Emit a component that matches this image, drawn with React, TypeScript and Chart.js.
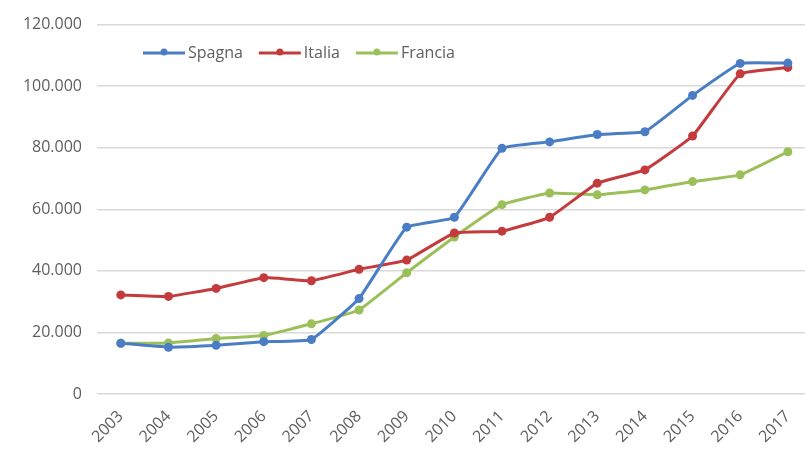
import React, { useEffect, useRef } from "react";
import { Chart, registerables } from "chart.js";

Chart.register(...registerables);

const years = [2003, 2004, 2005, 2006, 2007, 2008, 2009, 2010, 2011, 2012, 2013, 2014, 2015, 2016, 2017];
const spagna = [16500, 15200, 15800, 17000, 17700, 31000, 54200, 57400, 79800, 81900, 84300, 85200, 97000, 107400, 107500];
const italia = [32200, 31700, 34300, 37800, 36800, 40500, 43500, 52300, 52900, 57400, 68500, 72800, 83800, 104000, 106100];
const francia = [16500, 16600, 18000, 19000, 22800, 27300, 39400, 51000, 61500, 65300, 64700, 66300, 69000, 71200, 78700];
const yTicks = [0, 20000, 40000, 60000, 80000, 100000, 120000];
const seriesNames = ["Spagna", "Italia", "Francia"];
const seriesColors = ["#4A7DC4", "#C33B3D", "#9CC059"];

const FONT = "'Open Sans', 'DejaVu Sans', sans-serif";
const TEXT_COLOR = "#5E5E5E";

function fmt(v: number): string {
  const s = String(Math.round(v));
  return s.replace(/\B(?=(\d{3})+(?!\d))/g, ".");
}

const inlineLegend = {
  id: "inlineLegend",
  afterDraw(chart: any) {
    const ctx = chart.ctx as CanvasRenderingContext2D;
    const { left } = chart.chartArea;
    let x = left + 46;
    const y = 53;
    ctx.save();
    ctx.font = `16px ${FONT}`;
    ctx.textBaseline = "middle";
    ctx.textAlign = "left";
    chart.data.datasets.forEach((ds: any) => {
      ctx.strokeStyle = ds.borderColor;
      ctx.lineWidth = 3;
      ctx.beginPath();
      ctx.moveTo(x, y);
      ctx.lineTo(x + 42, y);
      ctx.stroke();
      ctx.fillStyle = ds.borderColor;
      ctx.beginPath();
      ctx.arc(x + 21, y - 1, 3.5, 0, Math.PI * 2);
      ctx.fill();
      x += 45;
      ctx.fillStyle = TEXT_COLOR;
      ctx.fillText(ds.label, x, y);
      x += ctx.measureText(ds.label).width + 16;
    });
    ctx.restore();
  },
};

export default function App() {
  const ref = useRef<HTMLCanvasElement | null>(null);

  useEffect(() => {
    if (!ref.current) return;
    const data = [spagna, italia, francia];
    const chart = new Chart(ref.current, {
      type: "line",
      data: {
        datasets: seriesNames.map((name, i) => ({
          label: name,
          data: years.map((yr, j) => ({ x: yr, y: data[i][j] })),
          borderColor: seriesColors[i],
          backgroundColor: seriesColors[i],
          borderWidth: 3,
          pointRadius: 4.5,
          pointHoverRadius: 4.5,
          pointBorderWidth: 0,
          tension: 0.1,
          fill: false,
          clip: false,
        })),
      },
      options: {
        animation: false,
        responsive: false,
        maintainAspectRatio: false,
        layout: { autoPadding: false, padding: { top: 22, right: 0, left: 0, bottom: 0 } },
        plugins: {
          legend: { display: false },
          tooltip: { enabled: false },
        },
        scales: {
          x: {
            type: "linear",
            min: 2002.5,
            max: 2017.36,
            grid: { display: false, drawTicks: false },
            border: { display: false },
            afterBuildTicks: (scale: any) => {
              scale.ticks = years.map((v) => ({ value: v }));
            },
            afterFit: (scale: any) => {
              scale.height = 56;
              scale.paddingRight = 0;
              scale.paddingLeft = 0;
            },
            ticks: {
              autoSkip: false,
              maxRotation: 45,
              minRotation: 45,
              padding: 13,
              color: TEXT_COLOR,
              font: { family: FONT, size: 16 },
              callback: (v: any) => String(v),
            },
          },
          y: {
            min: 0,
            max: 120000,
            afterBuildTicks: (scale: any) => {
              scale.ticks = yTicks.map((v) => ({ value: v }));
            },
            afterFit: (scale: any) => {
              scale.width = 97;
            },
            grid: { color: "#D9D9D9", lineWidth: 1.5, drawTicks: false },
            border: { display: false },
            ticks: {
              padding: 15,
              color: TEXT_COLOR,
              font: { family: FONT, size: 16 },
              callback: (v: any) => fmt(Number(v)),
            },
          },
        },
      },
      plugins: [inlineLegend],
    });
    return () => chart.destroy();
  }, []);

  return (
    <div style={{ position: "fixed", left: 0, top: 0, width: 805, height: 450, background: "#fff" }}>
      <canvas ref={ref} width={805} height={450} style={{ display: "block", width: 805, height: 450 }} />
    </div>
  );
}
